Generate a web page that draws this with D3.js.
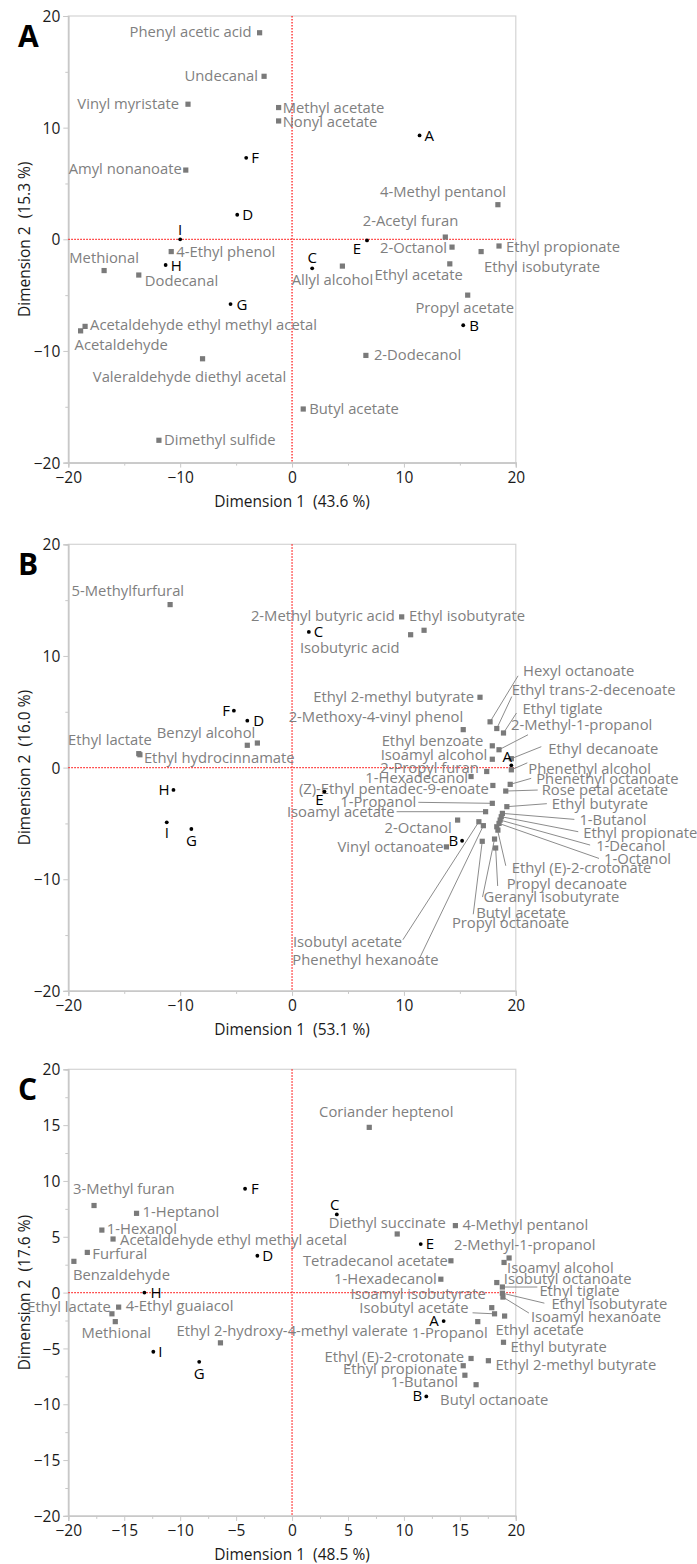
<!DOCTYPE html>
<html>
<head>
<meta charset="utf-8">
<script src="https://cdn.jsdelivr.net/npm/d3@7"></script>
<style>
  body { margin: 0; background: #fff; }
  svg { display: block; }
  text { font-family: "Open Sans", "Noto Sans", sans-serif; }
</style>
</head>
<body>
<svg id="chart" width="697" height="1564"></svg>
<script>
// ---- data: [name, dim1, dim2] ----
const compoundsA = [
  ['Phenyl acetic acid', -2.9, 18.5], ['Undecanal', -2.5, 14.6], ['Vinyl myristate', -9.3, 12.1],
  ['Methyl acetate', -1.2, 11.8], ['Nonyl acetate', -1.2, 10.6], ['Amyl nonanoate', -9.5, 6.2],
  ['4-Ethyl phenol', -10.8, -1.1], ['Methional', -16.8, -2.8], ['Dodecanal', -13.7, -3.2],
  ['Allyl alcohol', 4.5, -2.4], ['Acetaldehyde ethyl methyl acetal', -18.5, -7.8],
  ['Acetaldehyde', -18.9, -8.2], ['Valeraldehyde diethyl acetal', -8.0, -10.7],
  ['Butyl acetate', 1.0, -15.2], ['Dimethyl sulfide', -11.9, -18.0], ['4-Methyl pentanol', 18.4, 3.1],
  ['2-Acetyl furan', 13.7, 0.2], ['2-Octanol', 14.3, -0.7], ['Ethyl isobutyrate', 16.9, -1.1],
  ['Ethyl propionate', 18.5, -0.6], ['Ethyl acetate', 14.1, -2.2], ['Propyl acetate', 15.7, -5.0],
  ['2-Dodecanol', 6.6, -10.4]
];
const samplesA = [
  ['A', 11.4, 9.3], ['B', 15.3, -7.7], ['C', 1.8, -2.6], ['D', -4.9, 2.2], ['E', 6.7, -0.1],
  ['F', -4.1, 7.3], ['G', -5.5, -5.8], ['H', -11.3, -2.3], ['I', -10.0, 0.0]
];

const compoundsB = [
  ['5-Methylfurfural', -10.9, 14.6], ['2-Methyl butyric acid', 9.8, 13.5], ['Ethyl isobutyrate', 11.8, 12.3],
  ['Isobutyric acid', 10.6, 11.9], ['Ethyl lactate', -13.7, 1.25], ['Ethyl hydrocinnamate', -13.6, 1.15],
  ['Benzyl alcohol', -4.0, 2.0], ['', -3.1, 2.2], ['Ethyl 2-methyl butyrate', 16.8, 6.3],
  ['2-Methoxy-4-vinyl phenol', 15.3, 3.4], ['Hexyl octanoate', 17.7, 4.1], ['Ethyl trans-2-decenoate', 18.3, 3.5],
  ['Ethyl tiglate', 18.9, 3.1], ['Ethyl benzoate', 17.9, 1.95], ['2-Methyl-1-propanol', 18.5, 1.6],
  ['Isoamyl alcohol', 17.9, 0.75], ['Ethyl decanoate', 19.6, 0.8], ['Phenethyl alcohol', 19.6, -0.2],
  ['2-Propyl furan', 17.4, -0.35], ['1-Hexadecanol', 16.0, -0.8], ['(Z)-Ethyl pentadec-9-enoate', 17.95, -1.6],
  ['Phenethyl octanoate', 19.5, -1.5], ['Rose petal acetate', 19.1, -2.1], ['Ethyl butyrate', 19.2, -3.5],
  ['1-Propanol', 17.9, -3.2], ['Isoamyl acetate', 17.3, -3.95], ['1-Butanol', 18.8, -4.1],
  ['Ethyl propionate', 18.7, -4.4], ['1-Decanol', 18.6, -4.7], ['1-Octanol', 18.5, -5.0],
  ['2-Octanol', 14.8, -4.7], ['Isobutyl acetate', 16.7, -4.85], ['Phenethyl hexanoate', 17.1, -5.2],
  ['Ethyl (E)-2-crotonate', 18.3, -5.3], ['Propyl decanoate', 18.2, -7.2], ['Geranyl isobutyrate', 18.1, -6.4],
  ['Butyl acetate', 17.0, -6.6], ['Propyl octanoate', 18.4, -5.6], ['Vinyl octanoate', 13.8, -7.1]
];
const samplesB = [
  ['A', 19.6, 0.2], ['B', 15.2, -6.55], ['C', 1.5, 12.15], ['D', -4.0, 4.2], ['E', 2.9, -2.15],
  ['F', -5.2, 5.1], ['G', -9.0, -5.5], ['H', -10.6, -2.0], ['I', -11.2, -4.9]
];

const compoundsC = [
  ['Coriander heptenol', 6.9, 14.8], ['3-Methyl furan', -17.7, 7.8], ['1-Heptanol', -13.9, 7.1],
  ['1-Hexanol', -17.0, 5.6], ['Acetaldehyde ethyl methyl acetal', -16.0, 4.8], ['Furfural', -18.3, 3.6],
  ['Benzaldehyde', -19.5, 2.8], ['Ethyl lactate', -16.1, -1.9], ['4-Ethyl guaiacol', -15.5, -1.3],
  ['Methional', -15.8, -2.6], ['Ethyl 2-hydroxy-4-methyl valerate', -6.4, -4.5], ['Diethyl succinate', 9.4, 5.25],
  ['4-Methyl pentanol', 14.6, 6.0], ['2-Methyl-1-propanol', 19.4, 3.1], ['Tetradecanol acetate', 14.2, 2.85],
  ['Isoamyl alcohol', 18.95, 2.7], ['1-Hexadecanol', 13.3, 1.2], ['Isobutyl octanoate', 18.3, 0.9],
  ['Ethyl tiglate', 18.8, 0.5], ['Isoamyl isobutyrate', 17.85, -1.35], ['Ethyl isobutyrate', 18.8, -0.05],
  ['Isoamyl hexanoate', 18.85, -0.4], ['Isobutyl acetate', 18.1, -1.9], ['Ethyl acetate', 19.0, -2.1],
  ['1-Propanol', 16.6, -2.6], ['Ethyl butyrate', 18.9, -4.45], ['Ethyl (E)-2-crotonate', 16.0, -5.9],
  ['Ethyl 2-methyl butyrate', 17.55, -6.1], ['Ethyl propionate', 15.3, -6.55], ['1-Butanol', 15.45, -7.4],
  ['Butyl octanoate', 16.45, -8.25]
];
const samplesC = [
  ['A', 13.55, -2.55], ['B', 12.0, -9.3], ['C', 4.0, 7.0], ['D', -3.1, 3.3], ['E', 11.5, 4.35],
  ['F', -4.2, 9.3], ['G', -8.3, -6.2], ['H', -13.2, 0.0], ['I', -12.4, -5.3]
];

const varianceA = ['43.6', '15.3'];
const varianceB = ['53.1', '16.0'];
const varianceC = ['48.5', '17.6'];

// ---- label placement (pixels relative to the mark): [dx, dy, anchor, leaderDx, leaderDy] ----
const S = 'start', E = 'end', M = 'middle';
const layoutA = {
  'Phenyl acetic acid': [-8, -1, E], 'Undecanal': [-6, 0, E], 'Vinyl myristate': [-9, 0, E],
  'Methyl acetate': [4, 0, S], 'Nonyl acetate': [4, 1, S], 'Amyl nonanoate': [-4, -1, E],
  '4-Ethyl phenol': [5, 0, S], 'Methional': [0, -12.5, M], 'Dodecanal': [6, 6, S],
  'Allyl alcohol': [-10, 14, M], 'Acetaldehyde ethyl methyl acetal': [5, -2, S], 'Acetaldehyde': [-6, 14, S],
  'Valeraldehyde diethyl acetal': [-13, 18, M], 'Butyl acetate': [6, 0, S], 'Dimethyl sulfide': [5, 0, S],
  '4-Methyl pentanol': [8, -13, E], '2-Acetyl furan': [13, -16, E], '2-Octanol': [-5, 1, E],
  'Ethyl isobutyrate': [3, 15, S], 'Ethyl propionate': [7, 1, S], 'Ethyl acetate': [13, 11, E],
  'Propyl acetate': [-3, 13, M], '2-Dodecanol': [8, -1, S],
  'A': [5, 0, S], 'B': [6, 0, S], 'C': [0, -11, M], 'D': [5, 0, S], 'E': [-10, 8, M],
  'F': [5, 0, S], 'G': [6, 1, S], 'H': [5, 0.5, S], 'I': [0, -10, M]
};
const layoutB = {
  '5-Methylfurfural': [14, -14, E], '2-Methyl butyric acid': [-7, -1, E], 'Ethyl isobutyrate': [-15, -14, S],
  'Isobutyric acid': [-11, 13, E], 'Ethyl lactate': [13, -14, E], 'Ethyl hydrocinnamate': [4, 3, S],
  'Benzyl alcohol': [8, -12, E], 'Ethyl 2-methyl butyrate': [-6, 0, E], '2-Methoxy-4-vinyl phenol': [0, -13, E],
  'Hexyl octanoate': [33, -51, S, 28, -46], 'Ethyl trans-2-decenoate': [15, -39, S, 15, -32],
  'Ethyl tiglate': [19, -24, S, 13, -20], '2-Methyl-1-propanol': [12, -25, S, 29, -15],
  'Ethyl benzoate': [-9, -5, E], 'Isoamyl alcohol': [-5, -4, E], 'Ethyl decanoate': [37, -10, S, 30, -12],
  'Phenethyl alcohol': [17, -1, S, 16, -7], '2-Propyl furan': [-8, -4, E], '1-Hexadecanol': [-3, 1, E],
  '(Z)-Ethyl pentadec-9-enoate': [-4, 3, E], 'Phenethyl octanoate': [26, -6, S, 21, -6],
  'Rose petal acetate': [36, -1, S, 32, -1], 'Ethyl butyrate': [45, -3, S, 40, -3],
  '1-Propanol': [-76, -2, E, -74, -1], 'Isoamyl acetate': [-91, 0, E, -89, 0],
  '1-Butanol': [77, 6, S, 72, 6], 'Ethyl propionate': [82, 16, S, 77, 15], '1-Decanol': [96, 26, S, 90, 25],
  '1-Octanol': [105, 35, S, 100, 35], '2-Octanol': [-6, 8, E], 'Isobutyl acetate': [-186, 120, S, -76, 118],
  'Phenethyl hexanoate': [-191, 134, S, -64, 133], 'Ethyl (E)-2-crotonate': [15, 41, S, 9, 39],
  'Propyl decanoate': [11, 36, S, 2, 38], 'Geranyl isobutyrate': [-11, 58, S, -12, 58],
  'Butyl acetate': [-6, 72, S, -9, 73], 'Propyl octanoate': [-46, 93, S], 'Vinyl octanoate': [-3, 0, E],
  'A': [-4, -9, M], 'B': [-4, 0, E], 'C': [5, 0, S], 'D': [6, 0, S], 'E': [-5, 8, M],
  'F': [-4, 0, E], 'G': [0, 12, M], 'H': [-4, 0, E], 'I': [0, 10, M]
};
const layoutC = {
  'Coriander heptenol': [17, -15.5, M], '3-Methyl furan': [-21, -17, S], '1-Heptanol': [6, -2, S],
  '1-Hexanol': [5, -1, S], 'Acetaldehyde ethyl methyl acetal': [7, 1, S], 'Furfural': [5, 1, S],
  'Benzaldehyde': [-1, 13, S], 'Ethyl lactate': [-1, -7, E], '4-Ethyl guaiacol': [7, -1, S],
  'Methional': [1, 11, M], 'Ethyl 2-hydroxy-4-methyl valerate': [-44, -12.5, S], 'Diethyl succinate': [-10, -11, M],
  '4-Methyl pentanol': [7, -1, S], '2-Methyl-1-propanol': [-55, -13, S], 'Tetradecanol acetate': [-3, 0, E],
  'Isoamyl alcohol': [3, 5, S], '1-Hexadecanol': [-4, 0, E], 'Isobutyl octanoate': [7, -4, S],
  'Ethyl tiglate': [37, 4, S, 35, 0], 'Isoamyl isobutyrate': [-6, -14, E, -1, -1], 'Ethyl isobutyrate': [49, 11, S, 42, 10],
  'Isoamyl hexanoate': [28, 20, S, 26, 16], 'Isobutyl acetate': [-26, -6, E, -22, -1], 'Ethyl acetate': [-9, 14, S],
  '1-Propanol': [10, 11, E], 'Ethyl butyrate': [7, 5, S], 'Ethyl (E)-2-crotonate': [-7, -2, E],
  'Ethyl 2-methyl butyrate': [7, 4, S], 'Ethyl propionate': [-6, 3, E], '1-Butanol': [-7, 7, E],
  'Butyl octanoate': [-36, 15, S],
  'A': [-5, 0, E], 'B': [-4, -1, E], 'C': [-2, -9.5, M], 'D': [5, 0, S], 'E': [5, 0, S],
  'F': [6, 0, S], 'G': [0, 12, M], 'H': [6, 0.5, S], 'I': [5, 0, S]
};

const panels = [
  {letter: 'A', top: 16, compounds: compoundsA, samples: samplesA, variance: varianceA, layout: layoutA,
   major: [-20, -10, 0, 10, 20], minor: [-15, -5, 5, 15]},
  {letter: 'B', top: 544.3, compounds: compoundsB, samples: samplesB, variance: varianceB, layout: layoutB,
   major: [-20, -10, 0, 10, 20], minor: [-15, -5, 5, 15]},
  {letter: 'C', top: 1069.3, compounds: compoundsC, samples: samplesC, variance: varianceC, layout: layoutC,
   major: d3.range(-20, 21, 5), minor: d3.range(-17.5, 20, 5)}
];

const svg = d3.select('#chart');
const left = 68.3, plotW = 447.5, plotH = 446.6;
const gray = '#7f7f7f';

panels.forEach((p) => {
  const x = d3.scaleLinear().domain([-20, 20]).range([left, left + plotW]);
  const y = d3.scaleLinear().domain([-20, 20]).range([p.top + plotH, p.top]);
  const g = svg.append('g');

  // frame
  g.append('rect')
    .attr('x', left).attr('y', p.top).attr('width', plotW).attr('height', plotH)
    .attr('fill', 'none').attr('stroke', '#d4d4d4').attr('stroke-width', 1.2);

  // axes
  const xAxis = d3.axisBottom(x).tickValues(p.major).tickSize(5).tickPadding(4).tickFormat(d3.format('d'));
  const yAxis = d3.axisLeft(y).tickValues(p.major).tickSize(5).tickPadding(3).tickFormat(d3.format('d'));
  const xg = g.append('g').attr('transform', 'translate(0,' + (p.top + plotH) + ')').call(xAxis);
  const yg = g.append('g').attr('transform', 'translate(' + left + ',0)').call(yAxis);
  g.append('g').attr('transform', 'translate(0,' + (p.top + plotH) + ')')
    .call(d3.axisBottom(x).tickValues(p.minor).tickSize(3).tickFormat(''));
  g.append('g').attr('transform', 'translate(' + left + ',0)')
    .call(d3.axisLeft(y).tickValues(p.minor).tickSize(3).tickFormat(''));
  g.selectAll('.domain').attr('stroke', '#c8c8c8').attr('stroke-width', 1.2);
  g.selectAll('.tick line').attr('stroke', '#c8c8c8');
  [xg, yg].forEach((a) => a.selectAll('text')
    .attr('font-size', 15.5).attr('fill', '#1a1a1a').attr('font-family', '"Open Sans", sans-serif'));
  yg.selectAll('text').attr('dy', '0.36em');

  // zero lines
  g.append('line').attr('x1', x(0)).attr('x2', x(0)).attr('y1', p.top).attr('y2', p.top + plotH)
    .attr('stroke', '#ff2020').attr('stroke-width', 1.3).attr('stroke-dasharray', '1.5,1.5');
  g.append('line').attr('x1', left).attr('x2', left + plotW).attr('y1', y(0)).attr('y2', y(0))
    .attr('stroke', '#ff2020').attr('stroke-width', 1.3).attr('stroke-dasharray', '1.5,1.5');

  // axis titles
  g.append('text').attr('x', x(0)).attr('y', p.top + plotH + 44)
    .attr('text-anchor', 'middle').attr('font-size', 15.5).attr('fill', '#1a1a1a')
    .attr('xml:space', 'preserve')
    .text('Dimension 1  (' + p.variance[0] + ' %)');
  g.append('text').attr('transform', 'translate(30,' + y(0) + ') rotate(-90)')
    .attr('text-anchor', 'middle').attr('font-size', 15.5).attr('fill', '#1a1a1a')
    .attr('xml:space', 'preserve')
    .text('Dimension 2  (' + p.variance[1] + ' %)');

  // panel letter
  g.append('text').attr('x', 18).attr('y', p.top + 31)
    .attr('font-family', '"Liberation Sans", Arial, sans-serif').attr('font-weight', 'bold')
    .attr('font-size', 30).attr('fill', '#000').text(p.letter);

  // leader lines
  const lead = p.compounds.filter((d) => p.layout[d[0]] && p.layout[d[0]].length > 3);
  g.selectAll('.leader').data(lead).enter().append('line')
    .attr('class', 'leader')
    .attr('x1', (d) => x(d[1])).attr('y1', (d) => y(d[2]))
    .attr('x2', (d) => x(d[1]) + p.layout[d[0]][3]).attr('y2', (d) => y(d[2]) + p.layout[d[0]][4])
    .attr('stroke', '#8c8c8c').attr('stroke-width', 1);

  // compounds
  g.selectAll('.cmp').data(p.compounds).enter().append('rect')
    .attr('class', 'cmp')
    .attr('x', (d) => x(d[1]) - 2.6).attr('y', (d) => y(d[2]) - 2.6)
    .attr('width', 5.2).attr('height', 5.2).attr('fill', '#7a7a7a');

  g.selectAll('.cmpl').data(p.compounds.filter((d) => d[0] && p.layout[d[0]])).enter().append('text')
    .attr('class', 'cmpl')
    .attr('x', (d) => x(d[1]) + p.layout[d[0]][0]).attr('y', (d) => y(d[2]) + p.layout[d[0]][1])
    .attr('dy', '0.35em').attr('text-anchor', (d) => p.layout[d[0]][2])
    .attr('font-size', 14.8).attr('fill', gray).text((d) => d[0]);

  // samples
  g.selectAll('.smp').data(p.samples).enter().append('circle')
    .attr('class', 'smp').attr('cx', (d) => x(d[1])).attr('cy', (d) => y(d[2])).attr('r', 1.9)
    .attr('fill', '#000');
  g.selectAll('.smpl').data(p.samples).enter().append('text')
    .attr('class', 'smpl')
    .attr('x', (d) => x(d[1]) + p.layout[d[0]][0]).attr('y', (d) => y(d[2]) + p.layout[d[0]][1])
    .attr('dy', '0.35em').attr('text-anchor', (d) => p.layout[d[0]][2])
    .attr('font-size', 15).attr('fill', '#000').text((d) => d[0]);
});
</script>
</body>
</html>
